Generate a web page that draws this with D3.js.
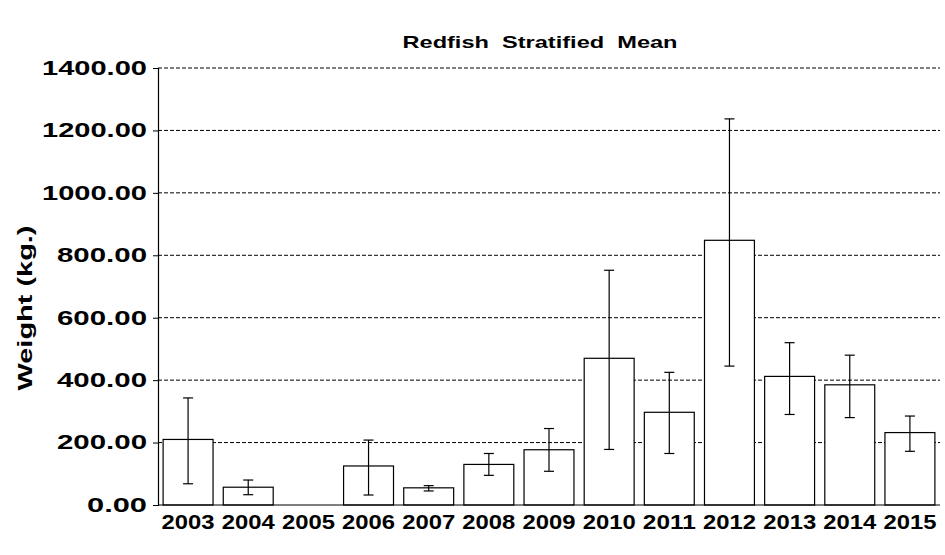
<!DOCTYPE html>
<html><head><meta charset="utf-8">
<script src="https://cdn.jsdelivr.net/npm/d3@7"></script>
<style>body{margin:0;background:#fff;font-family:"Liberation Sans",Arial,sans-serif;font-weight:bold}</style>
</head><body>
<script>
var years = ["2003","2004","2005","2006","2007","2008","2009","2010","2011","2012","2013","2014","2015"];
var means = [210, 57, 0, 125, 55, 130, 177, 470, 297, 848, 412, 385, 232];
var lows  = [68, 33, null, 32, 45, 95, 108, 178, 165, 445, 290, 280, 172];
var highs = [343, 80, null, 208, 62, 165, 245, 752, 425, 1237, 520, 480, 285];
var yTicks = [0, 200, 400, 600, 800, 1000, 1200, 1400];

var svg = d3.select("body").append("svg").attr("width", 945).attr("height", 555);
var margin = {top: 68, left: 158, right: 5, bottom: 50};
var width = 945 - margin.left - margin.right;
var height = 505 - margin.top;
var g = svg.append("g").attr("transform", `translate(${margin.left},${margin.top})`);

var x = d3.scaleBand().domain(years).range([0, width]).paddingInner(0.17).paddingOuter(0.085);
var y = d3.scaleLinear().domain([0, 1400]).range([height, 0]);

g.selectAll(".grid").data(yTicks.slice(1)).enter().append("line")
  .attr("x1", 0).attr("x2", width)
  .attr("y1", d => y(d)).attr("y2", d => y(d))
  .attr("stroke", "#000").attr("stroke-dasharray", "4,2").attr("stroke-width", 1);

g.selectAll("rect").data(years).enter().append("rect")
  .filter((d, i) => means[i] > 0)
  .attr("x", d => x(d))
  .attr("y", d => y(means[years.indexOf(d)]))
  .attr("width", x.bandwidth())
  .attr("height", d => height - y(means[years.indexOf(d)]))
  .attr("fill", "#fff").attr("stroke", "#000").attr("stroke-width", 1.2);

years.forEach(function(d, i) {
  if (lows[i] == null) return;
  var cx = x(d) + x.bandwidth() / 2;
  g.append("line").attr("x1", cx).attr("x2", cx).attr("y1", y(lows[i])).attr("y2", y(highs[i])).attr("stroke", "#000").attr("stroke-width", 1.2);
  [lows[i], highs[i]].forEach(function(v) {
    g.append("line").attr("x1", cx - 5).attr("x2", cx + 5).attr("y1", y(v)).attr("y2", y(v)).attr("stroke", "#000").attr("stroke-width", 1.2);
  });
});

var fmt = d3.format(".2f");
var leftAxis = d3.axisLeft(y).tickValues(yTicks).tickFormat(fmt).tickSize(5);
var ya = g.append("g").call(leftAxis);
ya.selectAll("text").attr("font-size", 20).attr("font-weight", "bold").attr("font-family", "Liberation Sans, Arial").attr("fill", "#000")
  .attr("dx", "-3").attr("lengthAdjust", "spacingAndGlyphs").attr("textLength", d => fmt(d).length * 15);
ya.select(".domain").attr("stroke", "#000").attr("stroke-width", 1.2);

var bottomAxis = d3.axisBottom(x).tickSize(0);
var xa = g.append("g").attr("transform", `translate(0,${height})`).call(bottomAxis);
xa.selectAll("text").attr("font-size", 20).attr("font-weight", "bold").attr("font-family", "Liberation Sans, Arial").attr("fill", "#000")
  .attr("dy", "1.05em").attr("lengthAdjust", "spacingAndGlyphs").attr("textLength", 53);
xa.select(".domain").attr("stroke", "#000").attr("stroke-width", 1.2).attr("d", `M0,0H${width}`);

svg.append("text").attr("x", 540).attr("y", 48).attr("text-anchor", "middle")
  .attr("font-size", 17).attr("font-weight", "bold").attr("xml:space", "preserve")
  .attr("lengthAdjust", "spacingAndGlyphs").attr("textLength", 275).text("Redfish  Stratified  Mean");

svg.append("text").attr("transform", "rotate(-90)").attr("x", -308).attr("y", 32)
  .attr("text-anchor", "middle").attr("font-size", 20).attr("font-weight", "bold")
  .attr("lengthAdjust", "spacingAndGlyphs").attr("textLength", 165).text("Weight (kg.)");
</script>
</body></html>
